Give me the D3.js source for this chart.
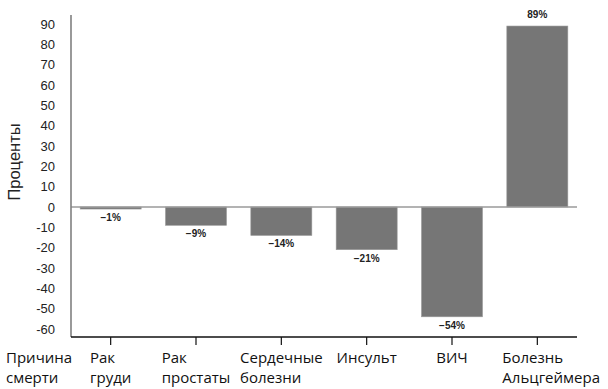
<!DOCTYPE html>
<html><head><meta charset="utf-8">
<script src="https://cdn.jsdelivr.net/npm/d3@7/dist/d3.min.js"></script>
<style>body{margin:0;background:#fff}</style>
</head><body>
<svg id="c" width="608" height="389"></svg>
<script>
const categories = [["Рак","груди"],["Рак","простаты"],["Сердечные","болезни"],["Инсульт"],["ВИЧ"],["Болезнь","Альцгеймера"]];
const values = [-1, -9, -14, -21, -54, 89];
const valueLabels = ["−1%","−9%","−14%","−21%","−54%","89%"];
const yTicks = [90,80,70,60,50,40,30,20,10,0,-10,-20,-30,-40,-50,-60];
const rowTitle = ["Причина","смерти"];
const yTitle = "Проценты";

const svg = d3.select("#c");
const keys = categories.map(c => c.join(" "));
const x = d3.scaleBand().domain(keys).range([68, 580]).paddingInner(0.285).paddingOuter(0.1425);
const y = d3.scaleLinear().domain([-60, 90]).range([329, 24]);
const left = 71, right = 577, bottom = 337;

// bars
svg.selectAll("rect.bar").data(values).join("rect")
  .attr("x", (d,i) => x(keys[i]))
  .attr("width", x.bandwidth())
  .attr("y", d => y(Math.max(0, d)))
  .attr("height", d => Math.abs(y(d) - y(0)))
  .attr("fill", "#767676")
  .attr("stroke", "#9a9a9a").attr("stroke-width", 0.6);

// zero line
svg.append("line").attr("x1", left).attr("x2", right).attr("y1", y(0)).attr("y2", y(0))
  .attr("stroke", "#9a9a9a").attr("stroke-width", 1.5);

// y axis (labels only) via d3 axis
const yAxis = svg.append("g").attr("transform", `translate(${left},0)`)
  .call(d3.axisLeft(y).tickValues(yTicks).tickSize(0).tickPadding(16).tickFormat(d => String(d)));
yAxis.select(".domain").remove();
yAxis.selectAll("text").attr("font-family", "Liberation Sans, Arial, sans-serif").attr("font-size", 13).attr("fill", "#222");

svg.append("line").attr("x1", left).attr("x2", left).attr("y1", 15).attr("y2", bottom)
  .attr("stroke", "#808080").attr("stroke-width", 1.6);

// bottom axis
const xAxis = svg.append("g").attr("transform", `translate(0,${bottom})`)
  .call(d3.axisBottom(x).tickSize(8).tickFormat(""));
xAxis.select(".domain").remove();
xAxis.selectAll("line").attr("stroke", "#111").attr("stroke-width", 1.2);
svg.append("line").attr("x1", left).attr("x2", right).attr("y1", bottom).attr("y2", bottom)
  .attr("stroke", "#111").attr("stroke-width", 1.3);

// value labels
svg.selectAll("text.val").data(values).join("text")
  .attr("x", (d,i) => x(keys[i]) + x.bandwidth()/2)
  .attr("y", d => d >= 0 ? y(d) - 8 : y(d) + 12)
  .attr("text-anchor", "middle")
  .attr("font-family", "Liberation Sans, Arial, sans-serif")
  .attr("font-size", 10).attr("font-weight", "bold").attr("fill", "#222")
  .text((d,i) => valueLabels[i]);

// category labels
const catFont = "Open Sans, Noto Sans, sans-serif";
function block(lines, cx, fixedX, last) {
  const g = svg.append("g");
  const t = g.append("text").attr("font-family", catFont).attr("font-size", 15).attr("fill", "#111");
  lines.forEach((l, j) => t.append("tspan").attr("x", 0).attr("y", 363 + j*19.5).text(l));
  const w = t.node().getBBox().width;
  let x0 = fixedX !== undefined ? fixedX : cx - w/2;
  if (last) x0 = Math.max(x0, 600 - w);
  g.attr("transform", `translate(${x0},0)`);
}
block(rowTitle, 0, 6);
categories.forEach((c, i) => block(c, x(keys[i]) + x.bandwidth()/2, undefined, i === categories.length - 1));

// y title
svg.append("text").attr("transform", `translate(20,162) rotate(-90)`)
  .attr("text-anchor", "middle")
  .attr("font-family", "Liberation Sans, Arial, sans-serif").attr("font-size", 16.5).attr("fill", "#222")
  .text(yTitle);
</script>
</body></html>
